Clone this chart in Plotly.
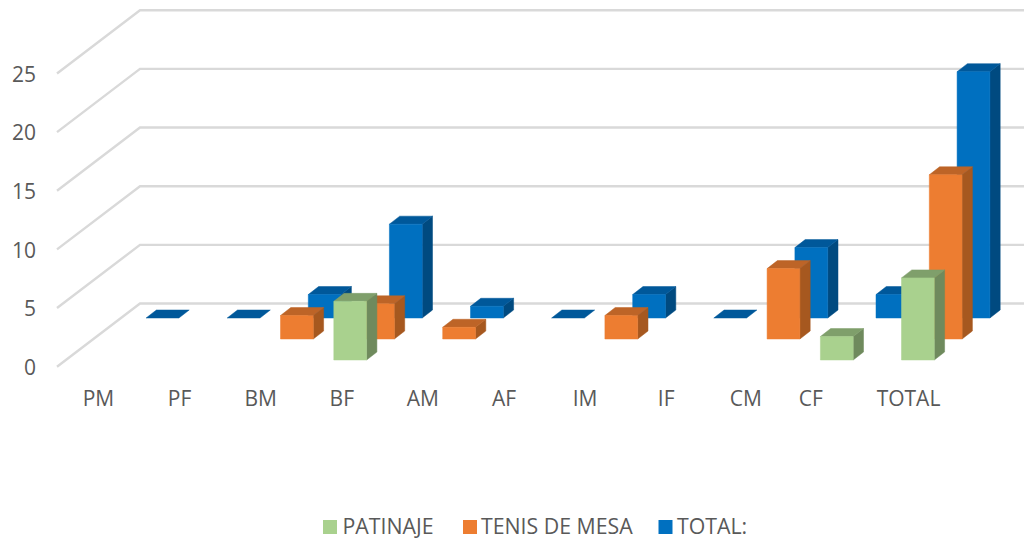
import plotly.graph_objects as go

# ---- data ----
categories = ["PM", "PF", "BM", "BF", "AM", "AF", "IM", "IF", "CM", "CF", "TOTAL"]
patinaje = [None, None, None, 5, None, None, None, None, None, 2, 7]
tenis_de_mesa = [None, None, 2, 3, 1, None, 2, None, 6, None, 14]
total = [0, 0, 2, 8, 1, 0, 2, 0, 6, 2, 21]
y_ticks = [0, 5, 10, 15, 20, 25]

# ---- projection (oblique view of a 3D column chart) ----
W, H = 1024, 543
PX_CAT = 81.1      # pixels per category step
PX_VAL = 11.73     # pixels per value unit
X0_PX, Y0_PX = 162.5, 318.0   # back-row, first category centre / baseline
BAR_W = 32.8 / PX_CAT
DX = 10.3 / PX_CAT
DY = 8.0 / PX_VAL
ROW_X = -27.8 / PX_CAT
ROW_Y = -21.0 / PX_VAL
WALL_LEFT_FRONT = (57 - X0_PX) / PX_CAT
WALL_LEFT_BACK = (140 - X0_PX) / PX_CAT
WALL_RIGHT = (W - X0_PX) / PX_CAT
WALL_Y_FRONT = (Y0_PX - 366.7) / PX_VAL
WALL_Y_BACK = (Y0_PX - 303.5) / PX_VAL
TICK_TEXT_DROP = 3 / PX_VAL
TEXT = "#595959"
FONT = "Open Sans"
FSIZE = 21
LEGEND_FSIZE = 21.3

series = [  # back to front
    ("TOTAL:", total, 0, "#0070C0", "#004A80", "#00589A"),
    ("TENIS DE MESA", tenis_de_mesa, 1, "#ED7D31", "#A6581F", "#BD6427"),
    ("PATINAJE", patinaje, 2, "#A9D18E", "#6F8A5D", "#7F9F6B"),
]

fig = go.Figure()

# walls / gridlines
gx, gy = [], []
for t in y_ticks:
    gx += [WALL_LEFT_FRONT, WALL_LEFT_BACK, WALL_RIGHT, None]
    gy += [t + WALL_Y_FRONT, t + WALL_Y_BACK, t + WALL_Y_BACK, None]
fig.add_trace(go.Scatter(x=gx, y=gy, mode="lines", showlegend=False, hoverinfo="skip",
                         line=dict(color="#D9D9D9", width=2.4)))


def poly(points):
    xs, ys = [], []
    for group in points:
        xs += [p[0] for p in group] + [group[0][0], None]
        ys += [p[1] for p in group] + [group[0][1], None]
    return xs, ys


for name, values, row, front, side, top in series:
    fronts, sides, tops = [], [], []
    for i, v in enumerate(values):
        if v is None:
            continue
        x1 = i + row * ROW_X - BAR_W / 2
        x2 = x1 + BAR_W
        y1 = row * ROW_Y
        y2 = y1 + v
        if v > 0:
            fronts.append([(x1, y1), (x2, y1), (x2, y2), (x1, y2)])
            sides.append([(x2, y1), (x2 + DX, y1 + DY), (x2 + DX, y2 + DY), (x2, y2)])
        tops.append([(x1, y2), (x2, y2), (x2 + DX, y2 + DY), (x1 + DX, y2 + DY)])
    for faces, colour in ((sides, side), (tops, top), (fronts, front)):
        xs, ys = poly(faces)
        fig.add_trace(go.Scatter(x=xs, y=ys, mode="lines", fill="toself", fillcolor=colour,
                                 line=dict(color=colour, width=0.5),
                                 legendgroup=name, showlegend=False, hoverinfo="skip"))

# value labels
fig.add_trace(go.Scatter(
    x=[(36 - X0_PX) / PX_CAT] * len(y_ticks), y=[t + WALL_Y_FRONT - TICK_TEXT_DROP for t in y_ticks],
    text=[str(t) for t in y_ticks], mode="text", textposition="middle left",
    textfont=dict(family=FONT, size=FSIZE, color=TEXT), showlegend=False, hoverinfo="skip"))

# category labels (the last ones sit left of the regular step in the reference)
label_nudge = {"CM": -1.5, "CF": -17.5, "TOTAL": -1}
label_x = [(98.5 + PX_CAT * i + label_nudge.get(c, 0) - X0_PX) / PX_CAT for i, c in enumerate(categories)]
fig.add_trace(go.Scatter(
    x=label_x, y=[(Y0_PX - 401) / PX_VAL] * len(categories), text=categories,
    mode="text", textposition="middle center",
    textfont=dict(family=FONT, size=FSIZE, color=TEXT), showlegend=False, hoverinfo="skip"))

# legend: swatch and label sit tighter than plotly's own legend allows
legend_swatch_px = {"PATINAJE": 330, "TENIS DE MESA": 470, "TOTAL:": 665.5}
legend_text_px = {"PATINAJE": 342.5, "TENIS DE MESA": 481, "TOTAL:": 677}
for name, values, row, front, side, top in series:
    fig.add_trace(go.Scatter(
        x=[(legend_swatch_px[name] - X0_PX) / PX_CAT], y=[(Y0_PX - 527) / PX_VAL],
        mode="markers", name=name, marker=dict(symbol="square", size=14, color=front),
        cliponaxis=False, showlegend=False, hoverinfo="skip"))
    fig.add_trace(go.Scatter(
        x=[(legend_text_px[name] - X0_PX) / PX_CAT], y=[(Y0_PX - 529) / PX_VAL],
        mode="text", text=[name], textposition="middle right",
        textfont=dict(family=FONT, size=LEGEND_FSIZE, color=TEXT),
        cliponaxis=False, showlegend=False, hoverinfo="skip"))

fig.update_layout(
    width=W, height=H, margin=dict(l=0, r=0, t=0, b=0, autoexpand=False),
    paper_bgcolor="white", plot_bgcolor="white", showlegend=False,
    xaxis=dict(range=[(0 - X0_PX) / PX_CAT, (W - X0_PX) / PX_CAT], visible=False, fixedrange=True),
    yaxis=dict(range=[(Y0_PX - H) / PX_VAL, Y0_PX / PX_VAL], visible=False, fixedrange=True),
)
fig.write_html("out.html", config={"displayModeBar": False},
               post_script="document.body.style.margin='0';")
